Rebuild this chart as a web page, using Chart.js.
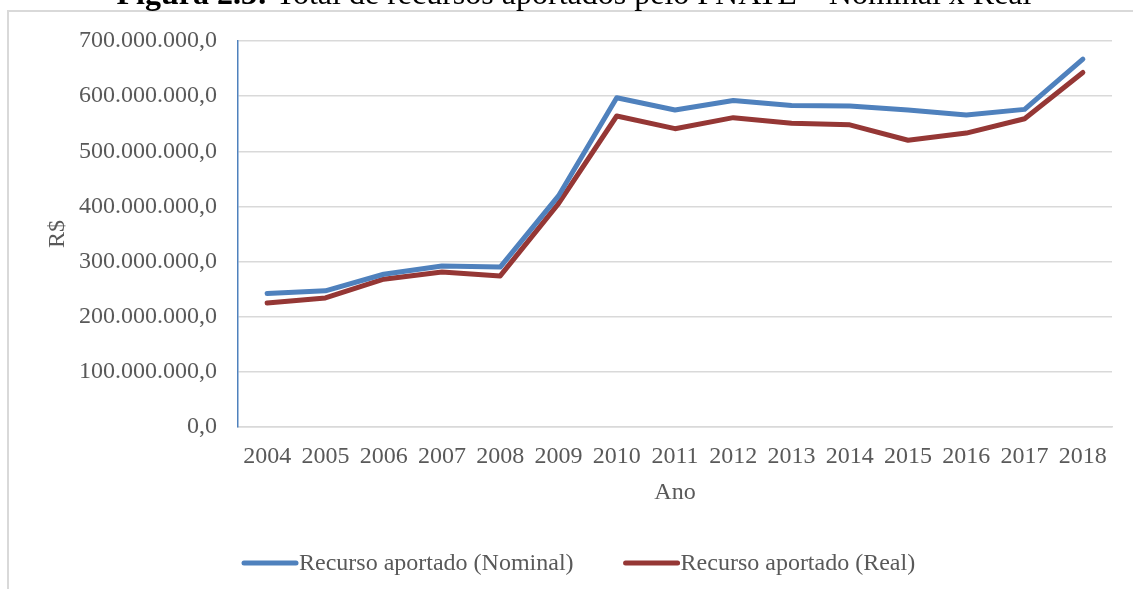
<!DOCTYPE html>
<html><head><meta charset="utf-8">
<script src="https://cdn.jsdelivr.net/npm/chart.js@4.4.1/dist/chart.umd.min.js"></script>
<style>
html,body{margin:0;padding:0;background:#fff;overflow:hidden}
#wrap{position:relative;width:1133px;height:589px}
#frame{position:absolute;left:7px;top:10px;width:1300px;height:700px;border-left:2px solid #d9d9d9;border-top:2px solid #d9d9d9}
canvas{position:absolute;left:0;top:0}
</style></head><body>
<div id="wrap"><div id="frame"></div><canvas id="c" width="1133" height="589"></canvas></div>
<script>
const years = ['2004','2005','2006','2007','2008','2009','2010','2011','2012','2013','2014','2015','2016','2017','2018'];
const nominal = [242e6, 247e6, 277e6, 292e6, 290e6, 419e6, 597e6, 575e6, 592e6, 583e6, 582e6, 575e6, 566e6, 576e6, 667e6];
const real    = [225e6, 234e6, 268e6, 281e6, 274e6, 405e6, 564e6, 541e6, 561e6, 551e6, 548e6, 520e6, 533e6, 559e6, 643e6];
const yTickLabels = ['0,0','100.000.000,0','200.000.000,0','300.000.000,0','400.000.000,0','500.000.000,0','600.000.000,0','700.000.000,0'];
const titleBold = 'Figura 2.3:';
const titleRest = ' Total de recursos aportados pelo PNATE – Nominal x Real';
const xTitle = 'Ano';
const yTitle = 'R$';

const SERIF = '"Liberation Serif", "Times New Roman", serif';
const TXT = '#595959';

const extras = {
  id: 'extras',
  afterDraw(chart) {
    const ctx = chart.ctx;
    ctx.save();
    // cut-off figure caption at the very top
    ctx.fillStyle = '#000';
    ctx.textBaseline = 'alphabetic';
    ctx.font = 'bold 32px ' + SERIF;
    const wb = ctx.measureText(titleBold).width;
    ctx.font = '32px ' + SERIF;
    const wr = ctx.measureText(titleRest).width;
    let x0 = 574 - (wb + wr) / 2;
    ctx.font = 'bold 32px ' + SERIF;
    ctx.fillText(titleBold, x0, 4);
    ctx.font = '32px ' + SERIF;
    ctx.fillText(titleRest, x0 + wb, 4);
    // legend
    ctx.font = '24px ' + SERIF;
    ctx.textBaseline = 'middle';
    let x = 244;
    const y = 563;
    chart.data.datasets.forEach(ds => {
      ctx.strokeStyle = ds.borderColor;
      ctx.lineWidth = 5;
      ctx.lineCap = 'round';
      ctx.beginPath();
      ctx.moveTo(x, y);
      ctx.lineTo(x + 52, y);
      ctx.stroke();
      ctx.fillStyle = TXT;
      ctx.textAlign = 'left';
      ctx.fillText(ds.label, x + 55, y + 1);
      x += 55 + ctx.measureText(ds.label).width + 52;
    });
    ctx.restore();
  }
};

new Chart(document.getElementById('c'), {
  type: 'line',
  data: {
    labels: years,
    datasets: [
      { label: 'Recurso aportado (Nominal)', data: nominal, borderColor: '#4F81BD', backgroundColor: '#4F81BD',
        borderWidth: 5, pointRadius: 0, tension: 0, borderCapStyle: 'round', borderJoinStyle: 'round' },
      { label: 'Recurso aportado (Real)', data: real, borderColor: '#953735', backgroundColor: '#953735',
        borderWidth: 5, pointRadius: 0, tension: 0, borderCapStyle: 'round', borderJoinStyle: 'round' }
    ]
  },
  options: {
    responsive: false,
    animation: false,
    devicePixelRatio: 1,
    layout: { padding: { left: 0, top: 41, right: 21, bottom: 82 } },
    plugins: { legend: { display: false }, tooltip: { enabled: false }, title: { display: false } },
    scales: {
      x: {
        offset: true,
        grid: { display: false, drawTicks: false },
        border: { display: true, color: '#d9d9d9', width: 1.5 },
        ticks: { font: { family: SERIF, size: 24 }, color: TXT, padding: 15, maxRotation: 0, autoSkip: false },
        title: { display: true, text: xTitle, font: { family: SERIF, size: 24 }, color: TXT, padding: { top: 0, bottom: 0 } },
        afterFit(s) { s.height = 80; s.paddingLeft = 0; s.paddingRight = 0; }
      },
      y: {
        min: 0, max: 700000000,
        ticks: { stepSize: 100000000, font: { family: SERIF, size: 24 }, color: TXT, padding: 21,
                 callback: (v) => yTickLabels[Math.round(v / 100000000)] },
        grid: { color: '#d9d9d9', lineWidth: 1.5, drawTicks: false },
        border: { display: true, color: '#4F81BD', width: 1.5 },
        title: { display: true, text: yTitle, font: { family: SERIF, size: 24 }, color: TXT, padding: { top: 43, bottom: 0 } },
        afterFit(s) { s.width = 238; s.paddingTop = 0; s.paddingBottom = 0; }
      }
    }
  },
  plugins: [extras]
});
</script>
</body></html>
